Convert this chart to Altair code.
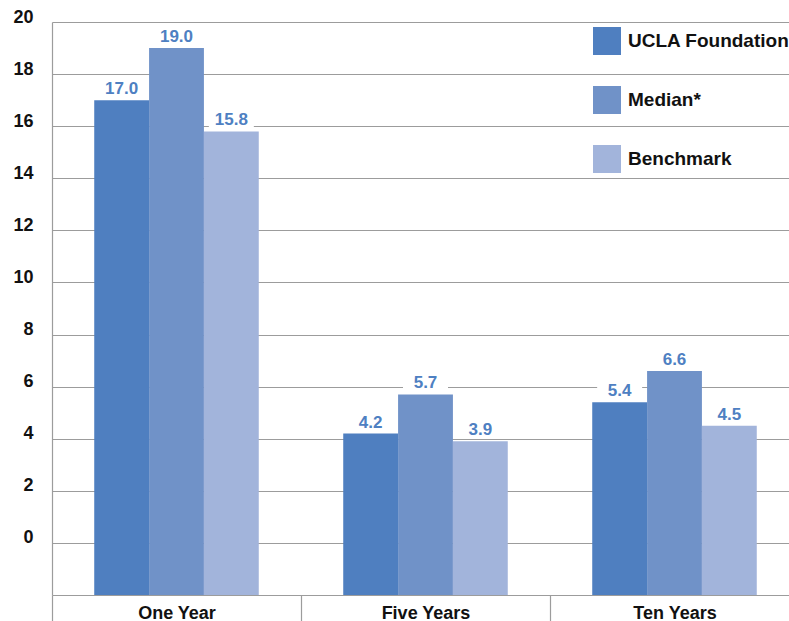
import altair as alt
import pandas as pd

periods = ["One Year", "Five Years", "Ten Years"]
series = ["UCLA Foundation", "Median*", "Benchmark"]
ucla = [17.0, 4.2, 5.4]
median = [19.0, 5.7, 6.6]
benchmark = [15.8, 3.9, 4.5]
y_ticks = [0, 2, 4, 6, 8, 10, 12, 14, 16, 18, 20]
colors = ["#4f7fc0", "#7092c8", "#a2b4db"]

rows = []
for s, vals in zip(series, [ucla, median, benchmark]):
    for p, v in zip(periods, vals):
        rows.append({"period": p, "series": s, "value": v, "label": f"{v:.1f}"})
df = pd.DataFrame(rows)

FONT = "Liberation Sans"
GRID = "#9c9c9c"

x = alt.X(
    "period:N",
    sort=periods,
    scale=alt.Scale(range=[0, 747], paddingInner=0, paddingOuter=0),
    axis=alt.Axis(
        title=None, labelAngle=0, labelFont=FONT, labelFontSize=18,
        labelFontWeight="bold", labelColor="#111111", domainColor=GRID,
        domainWidth=1.2, tickColor=GRID, tickWidth=1.2, tickSize=26,
        tickBand="extent", labelPadding=-17, grid=False,
    ),
)
xo = alt.XOffset("series:N", sort=series,
                 scale=alt.Scale(paddingInner=0, paddingOuter=0.77))
y = alt.Y(
    "value:Q",
    scale=alt.Scale(domain=[-2, 20], nice=False, zero=False),
    axis=alt.Axis(
        values=y_ticks, title=None, grid=True, gridColor=GRID, gridWidth=1.2,
        ticks=False, labelPadding=19, labelBaseline="alphabetic",
        labelFont=FONT, labelFontSize=18, labelFontWeight="bold",
        labelColor="#111111", domainColor=GRID, domainWidth=1.2,
    ),
)

bars = alt.Chart(df).mark_bar(opacity=1).encode(
    x=x, xOffset=xo, y=y, y2=alt.datum(-2),
    color=alt.Color(
        "series:N", sort=series,
        scale=alt.Scale(domain=series, range=colors),
        legend=alt.Legend(
            title=None, orient="none", legendX=541, legendY=5,
            symbolType="square", symbolSize=784, symbolStrokeWidth=0,
            symbolOpacity=1, labelFont=FONT, labelFontSize=19,
            labelFontWeight="bold", labelColor="#111111", labelOffset=7,
            rowPadding=31, padding=0, labelLimit=500,
        ),
    ),
)

boxes = alt.Chart(df).mark_point(
    shape="M-1,-0.4H1V0.4H-1Z", filled=True, color="white", opacity=1,
    strokeWidth=0, size=2025, yOffset=-13,
).encode(x=x, xOffset=xo, y=y)

text = alt.Chart(df).mark_text(
    dy=-6, baseline="alphabetic", font=FONT, fontSize=17, fontWeight="bold",
    color="#4e80c2",
).encode(x=x, xOffset=xo, y=y, text="label:N")

chart = alt.layer(bars, boxes, text).properties(
    width=737, height=573,
    padding={"left": 52, "top": 22, "right": 0, "bottom": 26},
    autosize=alt.AutoSizeParams(type="none"),
).configure_view(stroke=None)

chart.save("out.html", embed_options={"renderer": "svg", "actions": False})
